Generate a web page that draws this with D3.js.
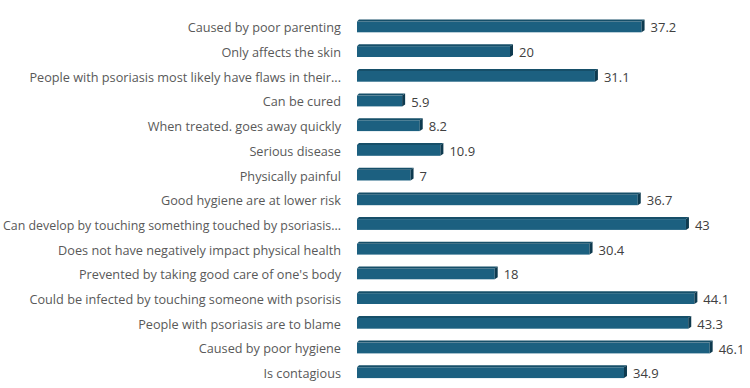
<!DOCTYPE html>
<html>
<head>
<meta charset="utf-8">
<script src="https://cdn.jsdelivr.net/npm/d3@7"></script>
<style>
  body { margin: 0; background: #fff; }
  text { font-family: "Open Sans", sans-serif; }
</style>
</head>
<body>
<div id="chart"></div>
<script>
var svgWidth = 750;
var svgHeight = 388;

// categories top to bottom
const categories = [
  "Caused by poor parenting",
  "Only affects the skin",
  "People with psoriasis most likely have flaws in their...",
  "Can be cured",
  "When treated. goes away quickly",
  "Serious disease",
  "Physically painful",
  "Good hygiene are at lower risk",
  "Can develop by touching something touched by psoriasis...",
  "Does not have negatively impact physical health",
  "Prevented by taking good care of one's body",
  "Could be infected by touching someone with psorisis",
  "People with psoriasis are to blame",
  "Caused by poor hygiene",
  "Is contagious"
];
const values = [37.2, 20, 31.1, 5.9, 8.2, 10.9, 7, 36.7, 43, 30.4, 18, 44.1, 43.3, 46.1, 34.9];

const data = categories.map((c, i) => ({ label: c, value: values[i] }));

const svg = d3.select("#chart")
  .append("svg")
  .attr("width", svgWidth)
  .attr("height", svgHeight);

const x = d3.scaleLinear()
  .domain([0, 50])
  .range([357, 739.5]);

const y = d3.scaleBand()
  .domain(categories)
  .range([7.6, 390])
  .padding(0.482);

const depth = 3;
const labelRight = 341;

const bars = svg.append("g").selectAll("g")
  .data(data).enter()
  .append("g");

// front face
bars.append("rect")
  .attr("x", x(0))
  .attr("y", d => y(d.label) + 2)
  .attr("width", d => x(d.value) - x(0))
  .attr("height", y.bandwidth() - 2)
  .attr("fill", "#1c6080");

// top face
bars.append("path")
  .attr("d", d => {
    var y0 = y(d.label);
    return `M${x(0)},${y0 + 2} L${x(0) + 2},${y0} L${x(d.value) + depth},${y0} L${x(d.value)},${y0 + 2} Z`;
  })
  .attr("fill", "#164f69");

// right side
bars.append("path")
  .attr("d", d => {
    var y0 = y(d.label), xe = x(d.value);
    return `M${xe},${y0 + 2} L${xe + depth},${y0} L${xe + depth},${y0 + y.bandwidth() - 2} L${xe},${y0 + y.bandwidth()} Z`;
  })
  .attr("fill", "#0e3a4f");

// value labels
bars.append("text")
  .attr("x", d => x(d.value) + depth + 6)
  .attr("y", d => y(d.label) + y.bandwidth() / 2 + 2)
  .attr("dy", ".35em")
  .attr("font-size", "13px")
  .attr("fill", "#404040")
  .text(d => d.value);

// category labels
svg.append("g").selectAll("text")
  .data(data).enter()
  .append("text")
  .attr("x", labelRight)
  .attr("y", d => y(d.label) + y.bandwidth() / 2 + 2)
  .attr("dy", ".35em")
  .attr("text-anchor", "end")
  .attr("font-size", "12.7px")
  .attr("fill", "#595959")
  .text(d => d.label)
  .each(function() {
    // squeeze labels that would run off the left edge
    var w = this.getComputedTextLength();
    if (w > labelRight - 3) {
      d3.select(this)
        .attr("textLength", labelRight - 3)
        .attr("lengthAdjust", "spacingAndGlyphs");
    }
  });
</script>
</body>
</html>
